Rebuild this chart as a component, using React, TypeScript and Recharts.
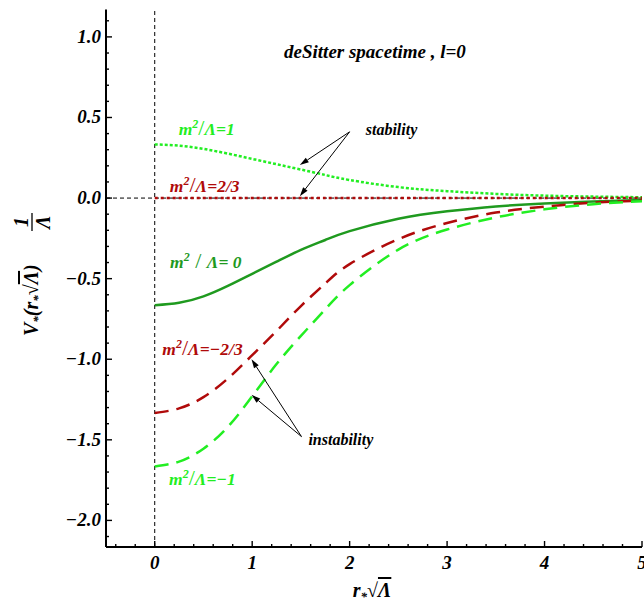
import React from 'react';
import { LineChart, Line, XAxis, YAxis, ReferenceLine, ReferenceDot } from 'recharts';

// r*·sqrt(Λ) sample points
const xValues = [0, 0.25, 0.5, 0.75, 1, 1.25, 1.5, 1.75, 2, 2.5, 3, 3.5, 4, 4.5, 5];
// V*/Λ for each m²/Λ
const seriesM1 = [0.333, 0.325, 0.305, 0.276, 0.243, 0.21, 0.177, 0.143, 0.112, 0.068, 0.043, 0.026, 0.015, 0.009, 0.005];
const seriesM23 = [0, 0, 0, 0, 0, 0, 0, 0, 0, 0, 0, 0, 0, 0, 0];
const seriesM0 = [-0.665, -0.65, -0.61, -0.545, -0.47, -0.395, -0.322, -0.26, -0.205, -0.128, -0.082, -0.052, -0.033, -0.021, -0.012];
const seriesMneg23 = [-1.333, -1.305, -1.235, -1.12, -0.975, -0.825, -0.67, -0.53, -0.41, -0.255, -0.155, -0.09, -0.053, -0.029, -0.015];
const seriesMneg1 = [-1.665, -1.635, -1.555, -1.42, -1.23, -1.03, -0.855, -0.69, -0.54, -0.32, -0.195, -0.12, -0.07, -0.038, -0.02];

const xTicks = [-0.4, -0.2, 0, 0.2, 0.4, 0.6, 0.8, 1, 1.2, 1.4, 1.6, 1.8, 2, 2.2, 2.4, 2.6, 2.8, 3, 3.2, 3.4, 3.6, 3.8, 4, 4.2, 4.4, 4.6, 4.8, 5];
const yTicks = [-2.1, -2.0, -1.9, -1.8, -1.7, -1.6, -1.5, -1.4, -1.3, -1.2, -1.1, -1.0, -0.9, -0.8, -0.7, -0.6, -0.5, -0.4, -0.3, -0.2, -0.1, 0, 0.1, 0.2, 0.3, 0.4, 0.5, 0.6, 0.7, 0.8, 0.9, 1.0, 1.1];

const data = xValues.map((x, i) => ({
  x,
  m1: seriesM1[i],
  m23: seriesM23[i],
  m0: seriesM0[i],
  mneg23: seriesMneg23[i],
  mneg1: seriesMneg1[i],
}));

const LIME = '#22ee22';
const GREEN = '#1f9a1f';
const DARKRED = '#b00a0a';

const F = { fontFamily: 'Liberation Serif', fontWeight: 'bold' as const, fontStyle: 'italic' as const };

const isMajorX = (v: number) => Math.abs(v - Math.round(v)) < 1e-6;
const isMajorY = (v: number) => Math.abs(v * 2 - Math.round(v * 2)) < 1e-6;
const fmtY = (v: number) => (v < 0 ? '\u2212' : '') + Math.abs(v).toFixed(1);

const BottomTick = (p: any) => {
  const { x, y, payload } = p;
  const v = payload.value;
  const major = isMajorX(v);
  return (
    <g>
      <line x1={x} x2={x} y1={y} y2={y - (major ? 6 : 3)} stroke="#000" strokeWidth={1.4} />
      {major && (
        <text x={x} y={y + 22} textAnchor="middle" fontSize={19} fill="#000" {...F}>
          {String(v)}
        </text>
      )}
    </g>
  );
};
const TopTick = (p: any) => {
  const { x, y, payload } = p;
  const major = isMajorX(payload.value);
  return <line x1={x} x2={x} y1={y} y2={y + (major ? 6 : 3)} stroke="#000" strokeWidth={1.4} />;
};
const LeftTick = (p: any) => {
  const { x, y, payload } = p;
  const v = payload.value;
  const major = isMajorY(v);
  return (
    <g>
      <line x1={x} x2={x + (major ? 6 : 3)} y1={y} y2={y} stroke="#000" strokeWidth={1.4} />
      {major && (
        <text x={x - 5} y={y + 6} textAnchor="end" fontSize={19} fill="#000" {...F}>
          {fmtY(v)}
        </text>
      )}
    </g>
  );
};
const RightTick = (p: any) => {
  const { x, y, payload } = p;
  const major = isMajorY(payload.value);
  return <line x1={x} x2={x - (major ? 6 : 3)} y1={y} y2={y} stroke="#000" strokeWidth={1.4} />;
};

const XLabel = (p: any) => {
  const vb = p.viewBox || { x: 106, width: 536 };
  const cx = vb.x + vb.width / 2 - 2;
  return (
    <text x={cx} y={597} textAnchor="middle" fontSize={20} fill="#000" {...F}>
      r<tspan dy={4} fontSize={13}>*</tspan>
      <tspan dy={-4} fontStyle="normal">{'\u221A'}</tspan>
      <tspan textDecoration="overline">{'\u039B'}</tspan>
    </text>
  );
};

const YLabel = () => (
  <g transform="translate(38,336) rotate(-90)">
    <text x={0} y={0} fontSize={20} fill="#000" {...F}>
      V<tspan dy={4} fontSize={13}>*</tspan>
      <tspan dy={-4}>(r</tspan>
      <tspan dy={4} fontSize={13}>*</tspan>
      <tspan dy={-4} fontStyle="normal">{'\u221A'}</tspan>
      <tspan textDecoration="overline">{'\u039B'}</tspan>
      <tspan>)</tspan>
    </text>
    <text x={114} y={-10} textAnchor="middle" fontSize={20} fill="#000" {...F}>1</text>
    <line x1={105} x2={123} y1={-6} y2={-6} stroke="#000" strokeWidth={1.3} />
    <text x={114} y={12} textAnchor="middle" fontSize={20} fill="#000" {...F}>{'\u039B'}</text>
  </g>
);

const makeMLabel = (color: string, rhs: string, spaced = false) => (p: any) => (
  <text x={p.cx} y={p.cy + 5} textAnchor="middle" fontSize={17.5} fill={color} {...F}>
    m<tspan dy={-7} fontSize={12}>2</tspan>
    <tspan dy={7} fontSize={22} fontStyle="normal" fontWeight="normal">{spaced ? ' / ' : '/'}</tspan>
    <tspan>{'\u039B' + rhs}</tspan>
  </text>
);

const makeText = (txt: string, size: number) => (p: any) => (
  <text x={p.cx} y={p.cy + 5} textAnchor="middle" fontSize={size} fill="#000" {...F}>
    {txt}
  </text>
);

const ArrowShape = (p: any) => {
  const x1 = Number(p.x1), y1 = Number(p.y1), x2 = Number(p.x2), y2 = Number(p.y2);
  const ang = Math.atan2(y2 - y1, x2 - x1);
  const L = 9, W = 2.8;
  const bx = x2 - L * Math.cos(ang), by = y2 - L * Math.sin(ang);
  const px = -Math.sin(ang) * W, py = Math.cos(ang) * W;
  return (
    <g>
      <line x1={x1} y1={y1} x2={bx} y2={by} stroke="#000" strokeWidth={1} />
      <polygon points={`${x2},${y2} ${bx + px},${by + py} ${bx - px},${by - py}`} fill="#000" />
    </g>
  );
};

export default function App() {
  return (
    <div style={{ position: 'absolute', left: 0, top: 0, width: 644, height: 605, background: '#fff' }}>
      <LineChart width={644} height={605} data={data} margin={{ top: 9.5, right: 2, bottom: 28, left: 0 }}>
        <XAxis
          dataKey="x"
          type="number"
          domain={[-0.5, 5]}
          ticks={xTicks}
          interval={0}
          tickSize={0}
          tickMargin={0}
          tickLine={false}
          tick={<BottomTick />}
          axisLine={{ stroke: '#000', strokeWidth: 2 }}
          height={30}
          allowDataOverflow
          label={XLabel}
        />
        <XAxis
          xAxisId="top"
          orientation="top"
          type="number"
          domain={[-0.5, 5]}
          ticks={xTicks}
          interval={0}
          tickSize={0}
          tickMargin={0}
          tickLine={false}
          tick={<TopTick />}
          axisLine={{ stroke: '#000', strokeWidth: 2 }}
          height={0}
          allowDataOverflow
        />
        <YAxis
          type="number"
          domain={[-2.165, 1.17]}
          ticks={yTicks}
          interval={0}
          tickSize={0}
          tickMargin={0}
          tickLine={false}
          tick={<LeftTick />}
          axisLine={{ stroke: '#000', strokeWidth: 2 }}
          width={106}
          allowDataOverflow
          label={YLabel}
        />
        <YAxis
          yAxisId="right"
          orientation="right"
          type="number"
          domain={[-2.165, 1.17]}
          ticks={yTicks}
          interval={0}
          tickSize={0}
          tickMargin={0}
          tickLine={false}
          tick={<RightTick />}
          axisLine={{ stroke: '#000', strokeWidth: 2 }}
          width={0}
          allowDataOverflow
        />
        <ReferenceLine x={0} stroke="#000" strokeWidth={1} strokeDasharray="4 3" />
        <ReferenceLine y={0} stroke="#000" strokeWidth={1} strokeDasharray="4 3" />
        <Line dataKey="m1" type="natural" stroke={LIME} strokeWidth={2.5} strokeDasharray="3 2" dot={false} isAnimationActive={false} />
        <Line dataKey="m23" type="natural" stroke={DARKRED} strokeWidth={2.5} strokeDasharray="3 3" dot={false} isAnimationActive={false} />
        <Line dataKey="m0" type="natural" stroke={GREEN} strokeWidth={2.5} dot={false} isAnimationActive={false} />
        <Line dataKey="mneg23" type="natural" stroke={DARKRED} strokeWidth={2.5} strokeDasharray="14 8" dot={false} isAnimationActive={false} />
        <Line dataKey="mneg1" type="natural" stroke={LIME} strokeWidth={2.5} strokeDasharray="14 8" dot={false} isAnimationActive={false} />

        <ReferenceLine segment={[{ x: 2.0, y: 0.411 }, { x: 1.489, y: 0.205 }]} shape={ArrowShape} />
        <ReferenceLine segment={[{ x: 2.0, y: 0.411 }, { x: 1.489, y: 0.012 }]} shape={ArrowShape} />
        <ReferenceLine segment={[{ x: 1.506, y: -1.48 }, { x: 0.993, y: -1.0 }]} shape={ArrowShape} />
        <ReferenceLine segment={[{ x: 1.506, y: -1.48 }, { x: 0.993, y: -1.221 }]} shape={ArrowShape} />

        <ReferenceDot x={2.26} y={0.9} r={0} shape={makeText('deSitter spacetime , l=0', 19)} />
        <ReferenceDot x={2.43} y={0.42} r={0} shape={makeText('stability', 16)} />
        <ReferenceDot x={1.91} y={-1.5} r={0} shape={makeText('instability', 16)} />
        <ReferenceDot x={0.534} y={0.42} r={0} shape={makeMLabel(LIME, '=1')} />
        <ReferenceDot x={0.513} y={0.068} r={0} shape={makeMLabel(DARKRED, '=2/3')} />
        <ReferenceDot x={0.524} y={-0.4} r={0} shape={makeMLabel(GREEN, '= 0', true)} />
        <ReferenceDot x={0.49} y={-0.94} r={0} shape={makeMLabel(DARKRED, '=\u22122/3')} />
        <ReferenceDot x={0.49} y={-1.75} r={0} shape={makeMLabel(LIME, '=\u22121')} />
      </LineChart>
    </div>
  );
}
